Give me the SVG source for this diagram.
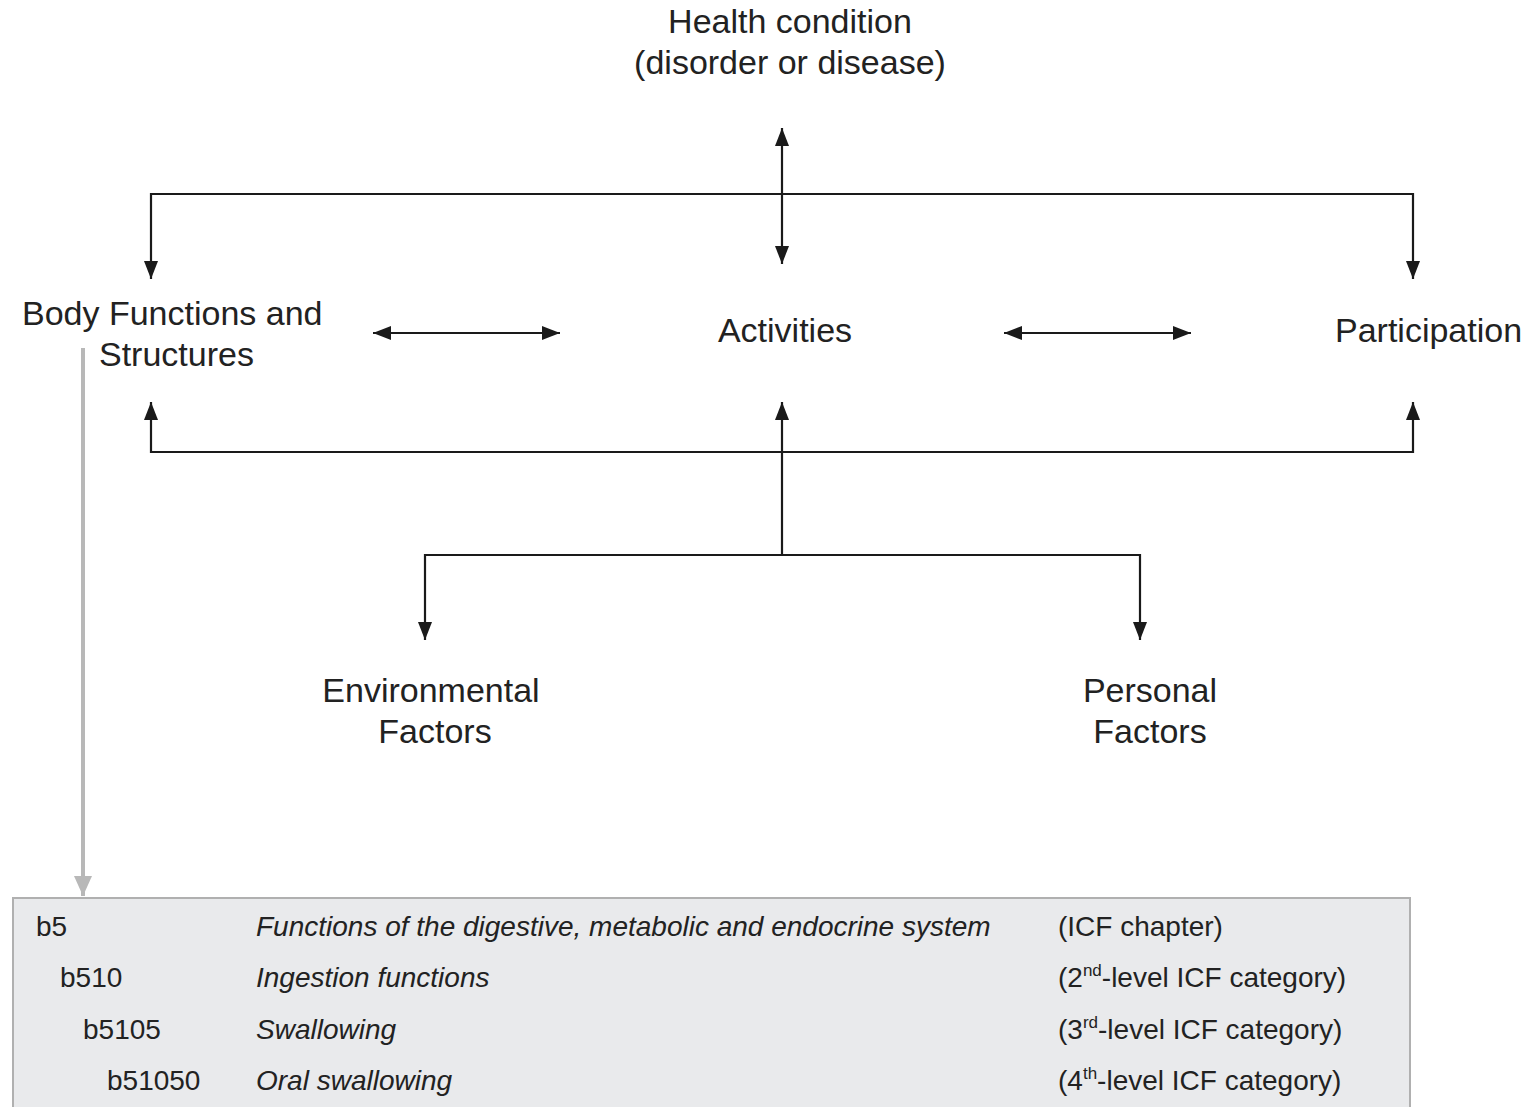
<svg xmlns="http://www.w3.org/2000/svg" width="1539" height="1107" viewBox="0 0 1539 1107">
<style>
text{font-family:"Liberation Sans",Arial,sans-serif;fill:#222}
.n{font-size:34px}
.t{font-size:28px}
.i{font-style:italic}
.c{text-anchor:middle}
.ln{stroke:#1a1a1a;stroke-width:2.2;fill:none}
.g{stroke:#b8b8b8;stroke-width:4;fill:none}
</style>
<defs>
<marker id="ah" viewBox="0 0 18 14" refX="18" refY="7" markerWidth="18" markerHeight="14" markerUnits="userSpaceOnUse" orient="auto-start-reverse">
<path d="M0,0 L18,7 L0,14 z" fill="#1a1a1a"/>
</marker>
<marker id="gh" viewBox="0 0 20 18" refX="20" refY="9" markerWidth="20" markerHeight="18" markerUnits="userSpaceOnUse" orient="auto">
<path d="M0,0 L20,9 L0,18 z" fill="#b8b8b8"/>
</marker>
</defs>
<rect width="1539" height="1107" fill="#fff"/>
<g id="connectors">
<line class="ln" x1="782" y1="128" x2="782" y2="264" marker-start="url(#ah)" marker-end="url(#ah)"/>
<polyline class="ln" points="151,279 151,194 1413,194 1413,279" marker-start="url(#ah)" marker-end="url(#ah)"/>
<line class="ln" x1="373" y1="333" x2="560" y2="333" marker-start="url(#ah)" marker-end="url(#ah)"/>
<line class="ln" x1="1004" y1="333" x2="1191" y2="333" marker-start="url(#ah)" marker-end="url(#ah)"/>
<polyline class="ln" points="151,402 151,452 1413,452 1413,402" marker-start="url(#ah)" marker-end="url(#ah)"/>
<line class="ln" x1="782" y1="555" x2="782" y2="402" marker-end="url(#ah)"/>
<polyline class="ln" points="425,640 425,555 1140,555 1140,640" marker-start="url(#ah)" marker-end="url(#ah)"/>
<line class="g" x1="83" y1="348" x2="83" y2="896" marker-end="url(#gh)"/>
</g>
<g id="health"><text class="n c" x="790" y="33">Health condition</text><text class="n c" x="790" y="74">(disorder or disease)</text></g>
<g id="body"><text class="n" x="22" y="325">Body Functions and</text><text class="n" x="99" y="366">Structures</text></g>
<g id="activities"><text class="n c" x="785" y="342">Activities</text></g>
<g id="participation"><text class="n" x="1335" y="342">Participation</text></g>
<g id="environmental"><text class="n c" x="431" y="702">Environmental</text><text class="n c" x="435" y="743">Factors</text></g>
<g id="personal"><text class="n c" x="1150" y="702">Personal</text><text class="n c" x="1150" y="743">Factors</text></g>
<g id="table">
<rect x="13" y="898" width="1397" height="215" fill="#e9eaec" stroke="#b0b0b0" stroke-width="2"/>
<text class="t" x="36" y="936">b5</text>
<text class="t i" x="256" y="936">Functions of the digestive, metabolic and endocrine system</text>
<text class="t" x="1058" y="936">(ICF chapter)</text>
<text class="t" x="60" y="987">b510</text>
<text class="t i" x="256" y="987">Ingestion functions</text>
<text class="t" x="1058" y="987">(2<tspan font-size="17" dy="-11">nd</tspan><tspan dy="11">-level ICF category)</tspan></text>
<text class="t" x="83" y="1039">b5105</text>
<text class="t i" x="256" y="1039">Swallowing</text>
<text class="t" x="1058" y="1039">(3<tspan font-size="17" dy="-11">rd</tspan><tspan dy="11">-level ICF category)</tspan></text>
<text class="t" x="107" y="1090">b51050</text>
<text class="t i" x="256" y="1090">Oral swallowing</text>
<text class="t" x="1058" y="1090">(4<tspan font-size="17" dy="-11">th</tspan><tspan dy="11">-level ICF category)</tspan></text>
</g>
</svg>
